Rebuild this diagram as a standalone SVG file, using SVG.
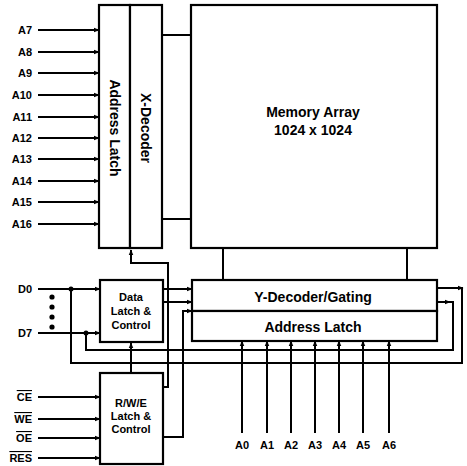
<svg xmlns="http://www.w3.org/2000/svg" width="467" height="466" viewBox="0 0 467 466">
<style>
.box{fill:#fff;stroke:#000;stroke-width:2.2}
.w{fill:none;stroke:#000;stroke-width:2}
.a{marker-end:url(#ar)}
text{font-family:"Liberation Sans",Arial,sans-serif;font-weight:bold;fill:#000}
.big{font-size:14px;text-anchor:middle}
.mid{font-size:11px;text-anchor:middle}
.lbl{font-size:11px;text-anchor:end}
.bot{font-size:11px;text-anchor:middle}
.ov{text-decoration:overline}
</style>
<defs>
<marker id="ar" viewBox="0 0 10 10" refX="9" refY="5" markerWidth="6" markerHeight="6" markerUnits="userSpaceOnUse" orient="auto">
<path d="M0,1 L10,5 L0,9 z" fill="#000"/>
</marker>
</defs>
<rect width="467" height="466" fill="#fff"/>
<g id="connectors">
<!-- A7..A16 -->
<path class="w a" d="M38,30 H99"/>
<path class="w a" d="M38,52 H99"/>
<path class="w a" d="M38,73 H99"/>
<path class="w a" d="M38,95 H99"/>
<path class="w a" d="M38,117 H99"/>
<path class="w a" d="M38,138 H99"/>
<path class="w a" d="M38,159 H99"/>
<path class="w a" d="M38,181 H99"/>
<path class="w a" d="M38,202 H99"/>
<path class="w a" d="M38,224 H99"/>
<!-- X-decoder to memory -->
<path class="w" d="M162,35 H191 M162,219 H191"/>
<!-- memory to Y-decoder -->
<path class="w" d="M223,248 V280 M407,248 V280"/>
<!-- D0, D7 -->
<path class="w a" d="M38,289 H100"/>
<path class="w a" d="M38,333 H100"/>
<circle cx="71" cy="289" r="2.5"/>
<circle cx="86" cy="333" r="2.5"/>
<circle cx="52" cy="297" r="2.6"/>
<circle cx="52" cy="307" r="2.6"/>
<circle cx="52" cy="317" r="2.6"/>
<circle cx="52" cy="327" r="2.6"/>
<!-- outer loop D0 -->
<path class="w" d="M71,289 V363 H462 V288"/>
<path class="w a" d="M437,288 H463"/>
<!-- inner loop D7 -->
<path class="w" d="M86,333 V350 H453 V302 H448"/>
<path class="w a" d="M437,302 H450"/>
<!-- data latch outputs -->
<path class="w a" d="M163,289 H192"/>
<path class="w a" d="M163,302 H192"/>
<!-- RWE to X-decoder -->
<path class="w a" d="M163,387 H168 V263 H131 V250"/>
<!-- RWE to Y-decoder -->
<path class="w a" d="M163,437 H183 V311 H192"/>
<!-- RWE to data latch -->
<path class="w a" d="M131,373 V343"/>
<!-- control inputs -->
<path class="w a" d="M38,397 H100"/>
<path class="w a" d="M38,419 H100"/>
<path class="w a" d="M38,438 H100"/>
<path class="w a" d="M38,458 H100"/>
<!-- A0..A6 -->
<path class="w a" d="M242,433 V341"/>
<path class="w a" d="M267,433 V341"/>
<path class="w a" d="M291,433 V341"/>
<path class="w a" d="M315,433 V341"/>
<path class="w a" d="M339,433 V341"/>
<path class="w a" d="M363,433 V341"/>
<path class="w a" d="M389,433 V341"/>
</g>
<g id="address-latch-x">
<rect class="box" x="99" y="5" width="31" height="243"/>
<text class="big" transform="translate(115,128) rotate(90)" y="5">Address Latch</text>
</g>
<g id="x-decoder">
<rect class="box" x="130" y="5" width="32" height="243"/>
<text class="big" transform="translate(146,128) rotate(90)" y="5">X-Decoder</text>
</g>
<g id="memory-array">
<rect class="box" x="191" y="5" width="246" height="243"/>
<text class="big" x="313" y="117">Memory Array</text>
<text class="big" x="313" y="135">1024 x 1024</text>
</g>
<g id="y-decoder">
<rect class="box" x="192" y="280" width="245" height="31"/>
<text class="big" x="313" y="302">Y-Decoder/Gating</text>
</g>
<g id="address-latch-y">
<rect class="box" x="192" y="311" width="245" height="30"/>
<text class="big" x="313" y="332">Address Latch</text>
</g>
<g id="data-latch">
<rect class="box" x="100" y="280" width="63" height="62"/>
<text class="mid" x="131" y="301">Data</text>
<text class="mid" x="131" y="315">Latch &amp;</text>
<text class="mid" x="131" y="329">Control</text>
</g>
<g id="rwe-latch">
<rect class="box" x="100" y="373" width="63" height="91"/>
<text class="mid" x="131" y="407">R/W/E</text>
<text class="mid" x="131" y="420">Latch &amp;</text>
<text class="mid" x="131" y="433">Control</text>
</g>
<g id="labels">
<text class="lbl" x="32" y="34">A7</text>
<text class="lbl" x="32" y="56">A8</text>
<text class="lbl" x="32" y="77">A9</text>
<text class="lbl" x="32" y="99">A10</text>
<text class="lbl" x="32" y="121">A11</text>
<text class="lbl" x="32" y="142">A12</text>
<text class="lbl" x="32" y="163">A13</text>
<text class="lbl" x="32" y="185">A14</text>
<text class="lbl" x="32" y="206">A15</text>
<text class="lbl" x="32" y="228">A16</text>
<text class="lbl" x="32" y="293">D0</text>
<text class="lbl" x="32" y="337">D7</text>
<text class="lbl ov" x="32" y="401">CE</text>
<text class="lbl ov" x="32" y="423">WE</text>
<text class="lbl ov" x="32" y="442">OE</text>
<text class="lbl ov" x="32" y="462">RES</text>
<text class="bot" x="242" y="449">A0</text>
<text class="bot" x="267" y="449">A1</text>
<text class="bot" x="291" y="449">A2</text>
<text class="bot" x="315" y="449">A3</text>
<text class="bot" x="339" y="449">A4</text>
<text class="bot" x="363" y="449">A5</text>
<text class="bot" x="389" y="449">A6</text>
</g>
</svg>
